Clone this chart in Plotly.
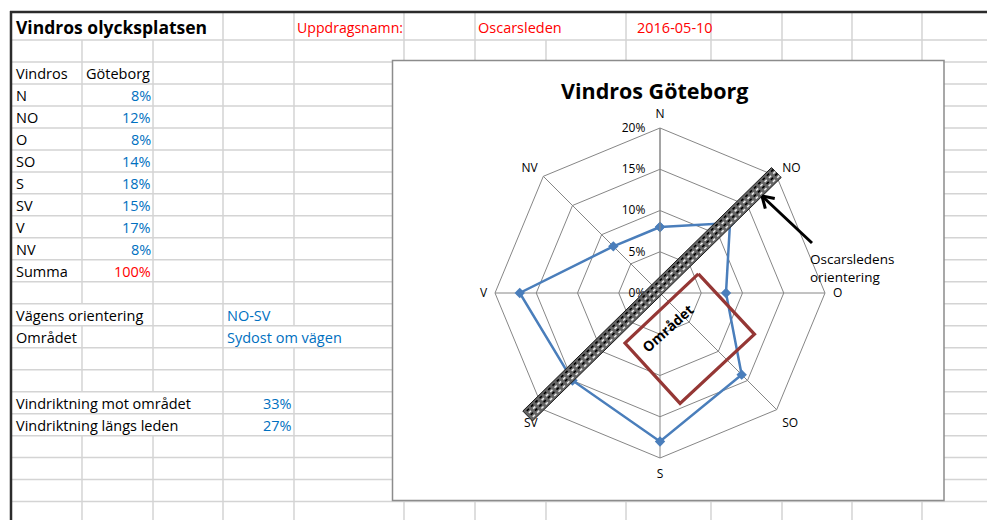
import numpy as np
import plotly.graph_objects as go

W, H = 987, 520

# ---------------- data ----------------
directions = ["N", "NO", "O", "SO", "S", "SV", "V", "NV"]
goteborg_pct = [8, 12, 8, 14, 18, 15, 17, 8]
summa_pct = 100
radial_ticks = [0, 5, 10, 15, 20]
radial_labels = ["0%", "5%", "10%", "15%", "20%"]

road_orientation = "NO-SV"
area_side = "Sydost om vägen"
wind_towards_area_pct = 33
wind_along_road_pct = 27

# road band (Oscarsleden) ends (radius in %, compass bearing)
road_end_r = [20.3, 21.9]
road_end_bearing = [44.0, 227.1]
road_halfwidth = 0.84

# "Området" rectangle corners (radius in %, compass bearing)
area_r = [5.2, 12.5, 13.6, 7.4]
area_bearing = [63.4, 113.6, 169.7, 215.0]

sheet_title = "Vindros olycksplatsen"
header_texts = ["Uppdragsnamn:", "Oscarsleden", "2016-05-10"]
chart_title = "Vindros Göteborg"

FONT = "Open Sans, sans-serif"
BLUE_TXT = "#0070C0"
RED_TXT = "#FF0000"

# ---------------- helpers ----------------
def fx(x):
    return x / W

def fy(y):
    return 1 - y / H

COL_X = [11, 82, 153, 223, 294, 404, 475, 546, 626, 711, 782, 852, 922]
ROW_Y = [12] + [40 + 21.98 * k for k in range(23)]

hidden = {0: {82, 153, 546}, 13: {82}, 14: {294}, 17: {82, 153}, 18: {82, 153}}

segs = []
for y in ROW_Y[1:]:
    if y <= H + 5:
        segs.append(f"M{fx(11):.5f},{fy(y):.5f} L{fx(W):.5f},{fy(y):.5f}")
for i in range(len(ROW_Y) - 1):
    y0, y1 = ROW_Y[i], ROW_Y[i + 1]
    if y0 > H:
        break
    for x in COL_X[1:]:
        if x in hidden.get(i, set()):
            continue
        segs.append(f"M{fx(x):.5f},{fy(y0):.5f} L{fx(x):.5f},{fy(y1):.5f}")

shapes = [
    dict(type="path", path=" ".join(segs), xref="paper", yref="paper",
         line=dict(color="#d4d4d4", width=1.5), layer="below"),
    dict(type="line", xref="paper", yref="paper", x0=fx(10), x1=fx(W), y0=fy(12), y1=fy(12),
         line=dict(color="#2b2b2b", width=2.5), layer="below"),
    dict(type="line", xref="paper", yref="paper", x0=fx(11), x1=fx(11), y0=fy(11), y1=fy(H + 2),
         line=dict(color="#2b2b2b", width=2.5), layer="below"),
    dict(type="rect", xref="paper", yref="paper", x0=fx(392.5), x1=fx(944), y0=fy(60.5), y1=fy(500.5),
         fillcolor="white", line=dict(color="#8c8c8c", width=1.5), layer="below"),
]

# arrow (open chevron head)
tail = np.array([812.0, 243.0])
head = np.array([762.0, 196.0])
back = (tail - head) / np.linalg.norm(tail - head)
arm_len = 13
for ang in (32, -32):
    a = np.radians(ang)
    rot = np.array([[np.cos(a), -np.sin(a)], [np.sin(a), np.cos(a)]])
    p = head + arm_len * rot.dot(back)
    shapes.append(dict(type="line", xref="paper", yref="paper", x0=fx(head[0]), y0=fy(head[1]),
                       x1=fx(p[0]), y1=fy(p[1]), line=dict(color="black", width=3), layer="above"))
shapes.append(dict(type="line", xref="paper", yref="paper", x0=fx(tail[0]), y0=fy(tail[1]),
                   x1=fx(head[0] + 1.5 * back[0]), y1=fy(head[1] + 1.5 * back[1]),
                   line=dict(color="black", width=3), layer="above"))

# ---------------- annotations (cell texts) ----------------
annotations = []

def row_c(i):
    return (ROW_Y[i] + ROW_Y[i + 1]) / 2 + 1

def cell(i, x, text, anchor="left", color="black", size=14.5, bold=False):
    xx = x - 2.5 if anchor == "left" else x + 2.5
    annotations.append(dict(
        x=fx(xx), y=fy(row_c(i)), xref="paper", yref="paper", text=f"<b>{text}</b>" if bold else text,
        showarrow=False, xanchor=anchor, yanchor="middle",
        font=dict(family=FONT, size=size, color=color)))

cell(0, 16, sheet_title, size=17.5, bold=True)
cell(0, 297, header_texts[0], color=RED_TXT, size=14.1)
cell(0, 478, header_texts[1], color=RED_TXT)
cell(0, 637, header_texts[2], color=RED_TXT)
cell(2, 16, "Vindros")
cell(2, 86, "Göteborg")
for k, (d, v) in enumerate(zip(directions, goteborg_pct)):
    cell(3 + k, 16, d)
    cell(3 + k, 150, f"{v}%", anchor="right", color=BLUE_TXT)
cell(11, 16, "Summa")
cell(11, 150, f"{summa_pct}%", anchor="right", color=RED_TXT)
cell(13, 16, "Vägens orientering")
cell(13, 227, road_orientation, color=BLUE_TXT)
cell(14, 16, "Området")
cell(14, 227, area_side, color=BLUE_TXT)
cell(17, 16, "Vindriktning mot området")
cell(17, 291, f"{wind_towards_area_pct}%", anchor="right", color=BLUE_TXT)
cell(18, 16, "Vindriktning längs leden")
cell(18, 291, f"{wind_along_road_pct}%", anchor="right", color=BLUE_TXT)

annotations.append(dict(x=fx(654), y=fy(90), xref="paper", yref="paper", text=f"<b>{chart_title}</b>",
                        showarrow=False, xanchor="center", yanchor="middle",
                        font=dict(family=FONT, size=21.5, color="black")))
annotations.append(dict(x=fx(808), y=fy(268), xref="paper", yref="paper",
                        text="Oscarsledens<br>orientering", align="left",
                        showarrow=False, xanchor="left", yanchor="middle",
                        font=dict(family=FONT, size=13.5, color="black")))
annotations.append(dict(x=fx(667), y=fy(328), xref="paper", yref="paper", text="<b>Området</b>",
                        textangle=-42, showarrow=False, xanchor="center", yanchor="middle",
                        font=dict(family=FONT, size=14, color="black")))

# ---------------- polar geometry ----------------
CX, CY, R = 660, 293, 165
RMAX = 20
RMAX2 = 25  # overlay subplot for drawn objects, so nothing is clipped
R2 = R * RMAX2 / RMAX
dom_x = [fx(CX - R), fx(CX + R)]
dom_y = [fy(CY + R), fy(CY - R)]
dom2_x = [fx(CX - R2), fx(CX + R2)]
dom2_y = [fy(CY + R2), fy(CY - R2)]

def to_en(r, b):
    b = np.radians(b)
    return np.array([r * np.sin(b), r * np.cos(b)])

def to_rb(p):
    return float(np.hypot(p[0], p[1])), float(np.degrees(np.arctan2(p[0], p[1])))

top = to_en(road_end_r[0], road_end_bearing[0])
bot = to_en(road_end_r[1], road_end_bearing[1])
d = (bot - top) / np.linalg.norm(bot - top)
perp = np.array([d[1], -d[0]])

def band(offset_frac):
    return [to_rb(top + perp * road_halfwidth * offset_frac), to_rb(bot + perp * road_halfwidth * offset_frac)]

corners = [top + perp * road_halfwidth, bot + perp * road_halfwidth,
           bot - perp * road_halfwidth, top - perp * road_halfwidth, top + perp * road_halfwidth]
band_rb = [to_rb(c) for c in corners]

fig = go.Figure()

fig.add_trace(go.Scatterpolar(
    r=goteborg_pct + goteborg_pct[:1], theta=directions + directions[:1],
    mode="lines+markers", line=dict(color="#4A7EBB", width=2.5),
    marker=dict(symbol="diamond", size=8, color="#4A7EBB"),
    subplot="polar", hoverinfo="skip"))

fig.add_trace(go.Scatterpolar(
    r=[c[0] for c in band_rb], theta=[c[1] for c in band_rb], mode="lines",
    fill="toself", fillcolor="#666666", line=dict(color="#1a1a1a", width=1),
    subplot="polar2", hoverinfo="skip"))
for off, col in ((-0.62, "#e6e6e6"), (-0.2, "#000000"), (0.2, "#e6e6e6"), (0.62, "#000000")):
    seg = band(off)
    fig.add_trace(go.Scatterpolar(
        r=[s[0] for s in seg], theta=[s[1] for s in seg], mode="lines",
        line=dict(color=col, width=1.6, dash="dot"), subplot="polar2", hoverinfo="skip"))

fig.add_trace(go.Scatterpolar(
    r=area_r + area_r[:1], theta=area_bearing + area_bearing[:1], mode="lines",
    line=dict(color="#953735", width=3.2), subplot="polar2", hoverinfo="skip"))

grid_col = "#868686"
fig.update_layout(
    width=W, height=H, margin=dict(l=0, r=0, t=0, b=0),
    paper_bgcolor="white", plot_bgcolor="white", showlegend=False,
    shapes=shapes, annotations=annotations,
    font=dict(family=FONT, color="black"),
    polar=dict(
        domain=dict(x=dom_x, y=dom_y), gridshape="linear", bgcolor="rgba(0,0,0,0)",
        radialaxis=dict(range=[0, RMAX], tickvals=radial_ticks, ticktext=radial_labels,
                        angle=90, tickangle=90, side="counterclockwise", showline=True,
                        linecolor=grid_col, linewidth=1, gridcolor=grid_col, gridwidth=1,
                        ticks="outside", ticklen=10, tickcolor="rgba(0,0,0,0)",
                        tickfont=dict(family=FONT, size=12, color="black")),
        angularaxis=dict(type="category", categoryarray=directions, rotation=90,
                         direction="clockwise", showline=True, linecolor=grid_col, linewidth=1,
                         gridcolor=grid_col, gridwidth=1, ticks="outside", ticklen=5,
                         tickcolor="rgba(0,0,0,0)",
                         tickfont=dict(family=FONT, size=12, color="black")),
    ),
    polar2=dict(
        domain=dict(x=dom2_x, y=dom2_y), bgcolor="rgba(0,0,0,0)",
        radialaxis=dict(range=[0, RMAX2], visible=False),
        angularaxis=dict(rotation=90, direction="clockwise", visible=False),
    ),
)

fig.write_html("out.html", config={"displayModeBar": False},
               post_script="document.body.style.margin='0';")
